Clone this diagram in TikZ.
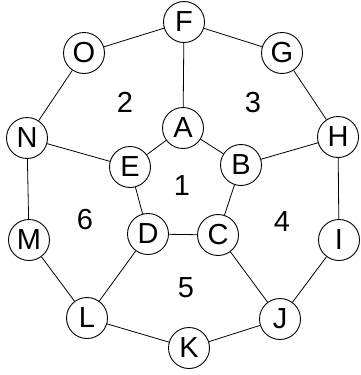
\documentclass[tikz,border=0pt]{standalone}
\usepackage{fontspec}
\setmainfont{Liberation Sans}
\begin{document}
\begin{tikzpicture}[x=1pt,y=-1pt,
  vert/.style={circle,draw,line width=0.9pt,minimum size=41pt,inner sep=0pt,fill=white,font=\fontsize{29}{29}\selectfont},
  face/.style={inner sep=0pt,font=\fontsize{29}{29}\selectfont},
  edge/.style={line width=0.8pt}]
\useasboundingbox (0,0) rectangle (360,375);
\node[vert] (F) at (184,22) {F};
\node[vert] (O) at (84,53) {O};
\node[vert] (G) at (282,53) {G};
\node[vert] (N) at (27,138) {N};
\node[vert] (H) at (338,137) {H};
\node[vert] (A) at (183,128) {A};
\node[vert] (E) at (130,167) {E};
\node[vert] (B) at (241,165) {B};
\node[vert] (D) at (148,234) {D};
\node[vert] (C) at (218,235) {C};
\node[vert] (M) at (29,240) {M};
\node[vert] (I) at (339,240) {I};
\node[vert] (L) at (87,318) {L};
\node[vert] (J) at (280,319) {J};
\node[vert] (K) at (189,348) {K};
\node[face] (f1) at (182,186) {1};
\node[face] (f2) at (125,102) {2};
\node[face] (f3) at (253,103) {3};
\node[face] (f4) at (282,222) {4};
\node[face] (f5) at (186,288) {5};
\node[face] (f6) at (85,220) {6};
\draw[edge] (F) -- (O);
\draw[edge] (F) -- (G);
\draw[edge] (F) -- (A);
\draw[edge] (O) -- (N);
\draw[edge] (G) -- (H);
\draw[edge] (N) -- (E);
\draw[edge] (N) -- (M);
\draw[edge] (H) -- (B);
\draw[edge] (H) -- (I);
\draw[edge] (A) -- (E);
\draw[edge] (A) -- (B);
\draw[edge] (E) -- (D);
\draw[edge] (B) -- (C);
\draw[edge] (D) -- (C);
\draw[edge] (M) -- (L);
\draw[edge] (I) -- (J);
\draw[edge] (D) -- (L);
\draw[edge] (C) -- (J);
\draw[edge] (L) -- (K);
\draw[edge] (K) -- (J);
\end{tikzpicture}
\end{document}
